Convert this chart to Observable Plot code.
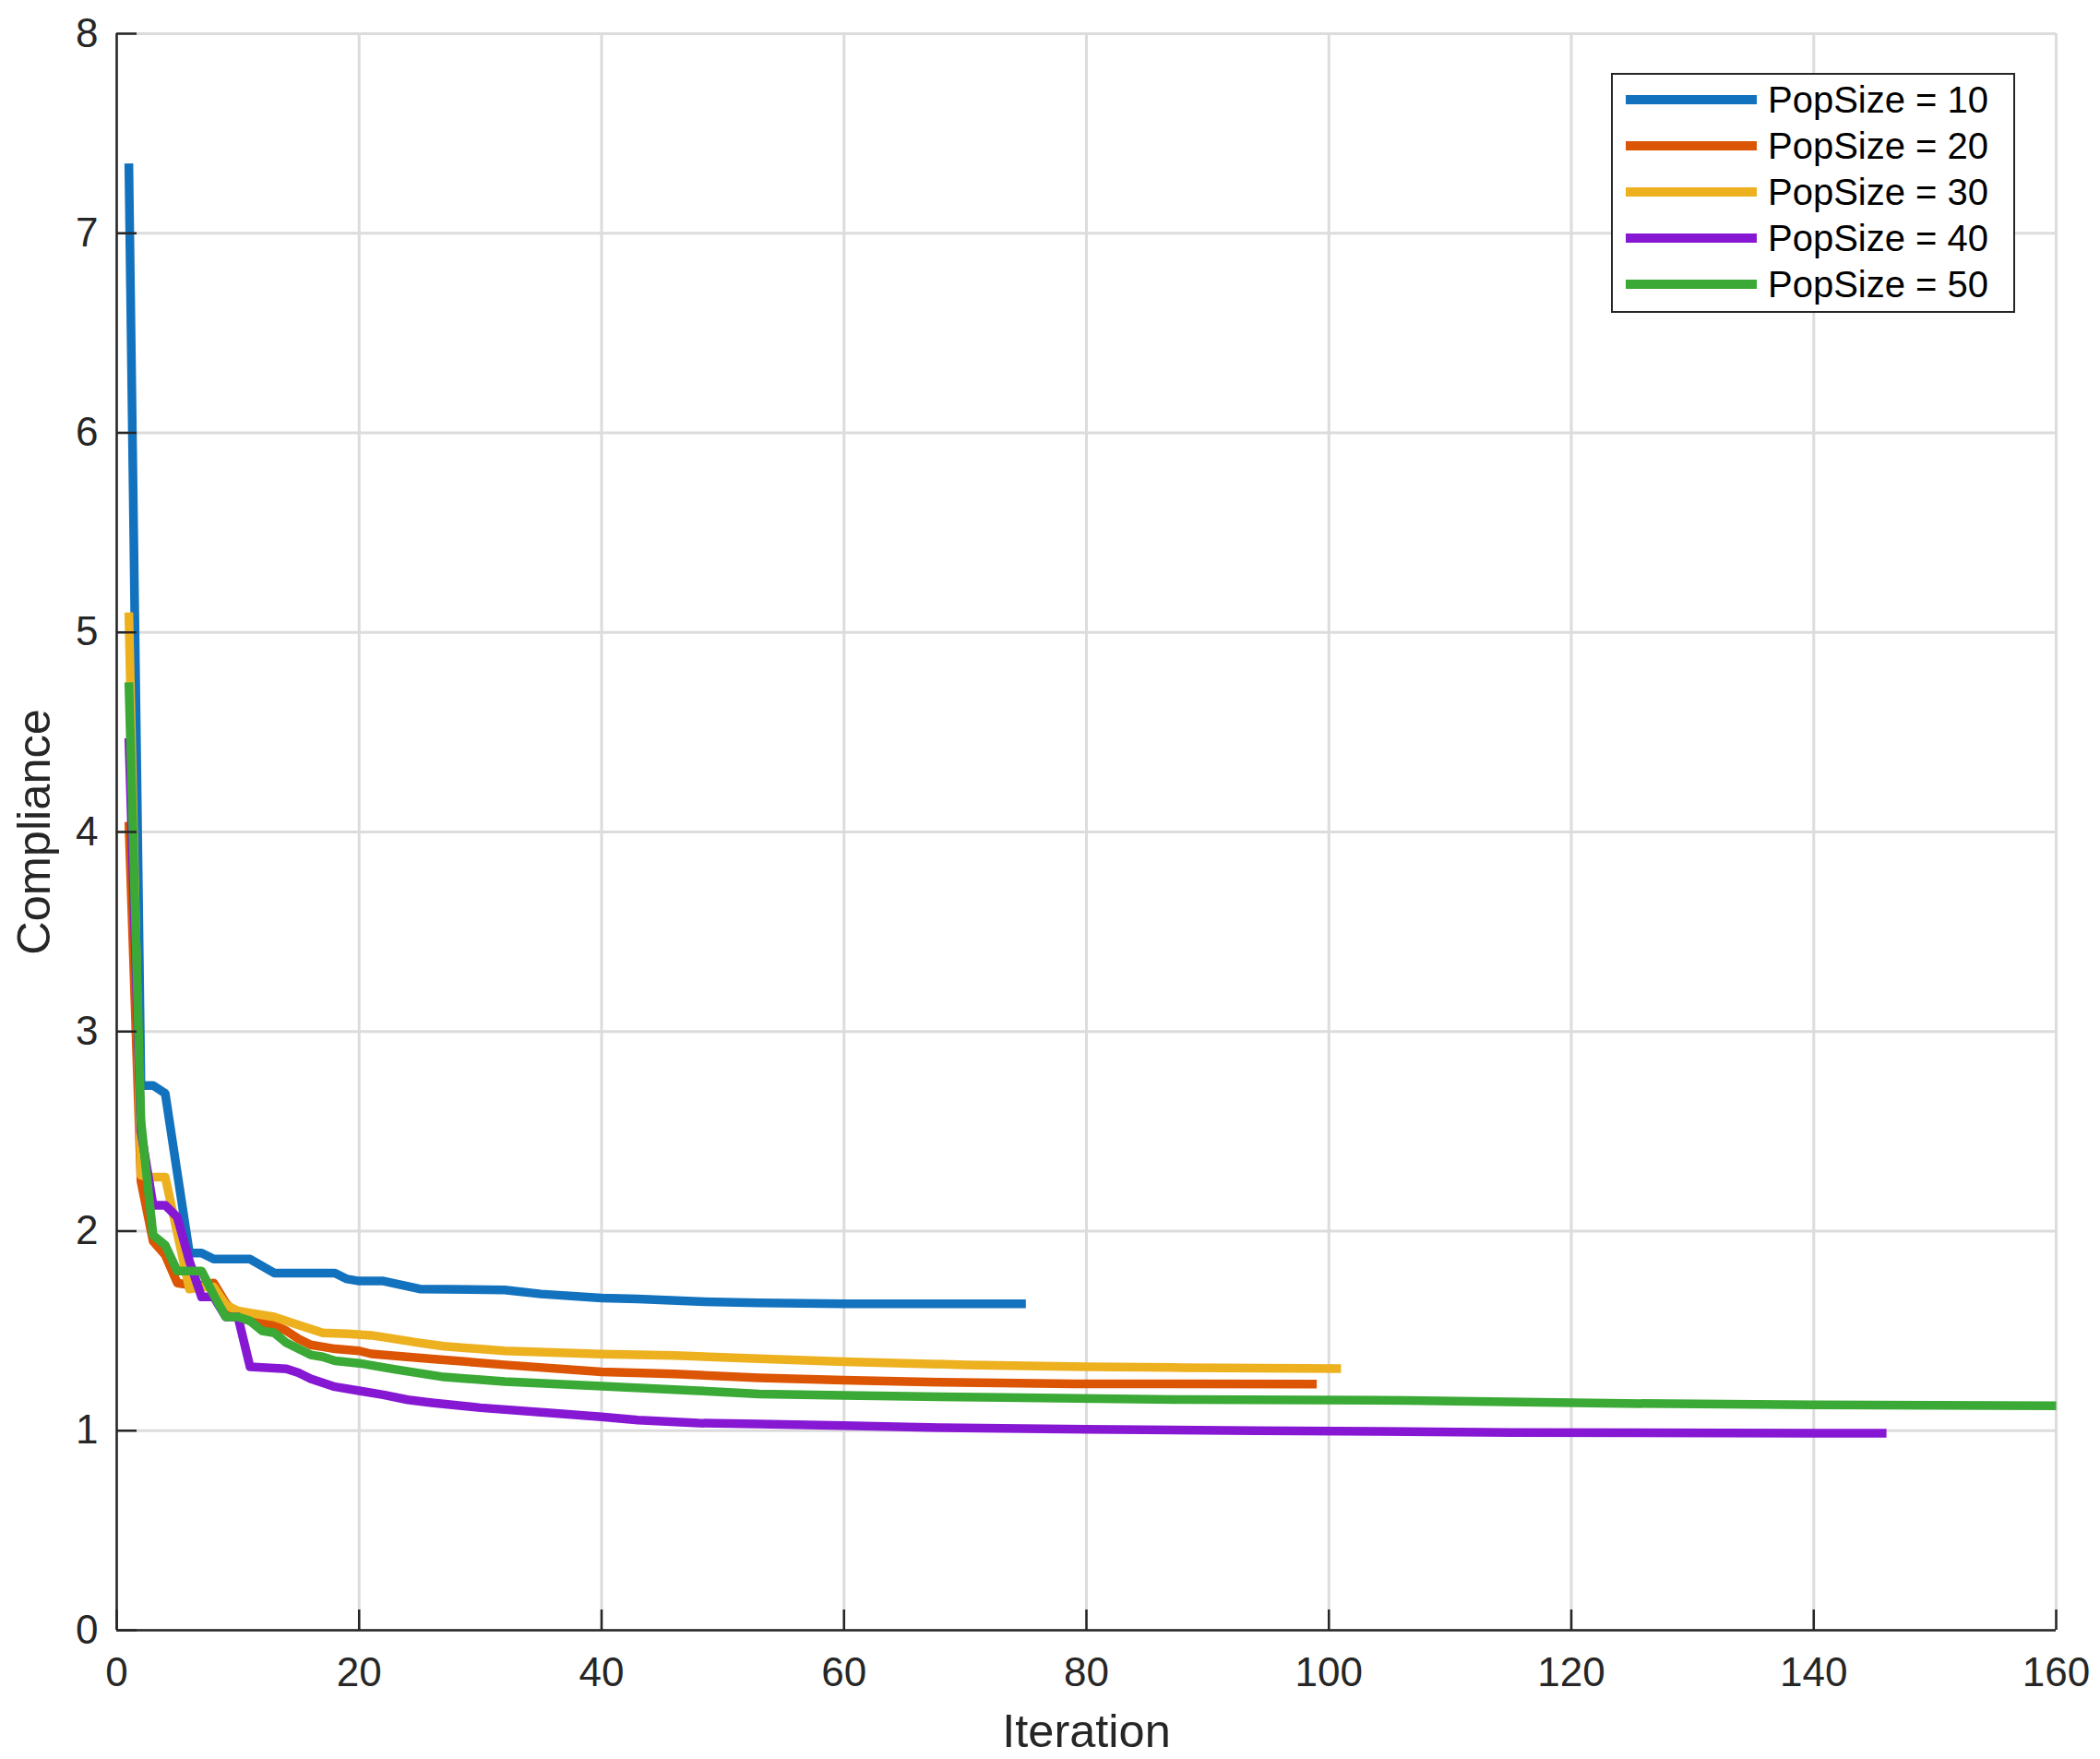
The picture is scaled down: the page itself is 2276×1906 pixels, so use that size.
<!DOCTYPE html>
<html>
<head>
<meta charset="utf-8">
<script src="https://cdn.jsdelivr.net/npm/d3@7"></script>
<script src="https://cdn.jsdelivr.net/npm/@observablehq/plot@0.6"></script>
<style>
  html, body { margin: 0; padding: 0; background: #ffffff; }
  #wrap { position: relative; width: 2276px; height: 1906px; background: #ffffff; font-family: "Liberation Sans", Arial, sans-serif; }
  #legend { position: absolute; left: 1746px; top: 79px; width: 434px; height: 256px; border: 2.5px solid #262626; background: #ffffff; }
  .row { position: absolute; left: 0; height: 50px; width: 100%; }
  .swatch { position: absolute; left: 14px; width: 142px; height: 9.5px; }
  .lab { position: absolute; left: 168px; font-size: 40px; color: #000; white-space: nowrap; line-height: 50px; }
</style>
</head>
<body>
<div id="wrap"><div id="legend"></div></div>
<script>
// ---- data ----
const seriesNames = ["PopSize = 10", "PopSize = 20", "PopSize = 30", "PopSize = 40", "PopSize = 50"];
const seriesColors = ["#1372BE", "#DC5504", "#EDB120", "#8618D3", "#3AA935"];

const iter10 = [1, 2, 3, 4, 6, 7, 8, 11, 13, 18, 19, 20, 22, 25, 32, 35, 40, 43, 48, 53, 60, 75];
const comp10 = [7.35, 2.73, 2.73, 2.69, 1.89, 1.89, 1.86, 1.86, 1.79, 1.79, 1.76, 1.75, 1.75, 1.71, 1.705, 1.685, 1.665, 1.66, 1.647, 1.64, 1.636, 1.636];

const iter20 = [1, 2, 3, 4, 5, 6, 7, 8, 9, 10, 11, 12, 13, 14, 15, 16, 17, 18, 20, 21, 26, 32, 40, 46, 53, 60, 68, 79, 99];
const comp20 = [4.05, 2.25, 1.95, 1.88, 1.74, 1.73, 1.73, 1.74, 1.64, 1.57, 1.55, 1.54, 1.53, 1.50, 1.46, 1.43, 1.42, 1.41, 1.40, 1.385, 1.36, 1.33, 1.295, 1.284, 1.265, 1.253, 1.243, 1.235, 1.233];

const iter30 = [1, 2, 3, 4, 5, 6, 7, 8, 9, 10, 11, 13, 15, 17, 19, 21, 22, 25, 27, 32, 40, 46, 53, 60, 70, 80, 88, 101];
const comp30 = [5.10, 2.28, 2.27, 2.27, 1.99, 1.71, 1.72, 1.72, 1.63, 1.60, 1.59, 1.57, 1.53, 1.49, 1.485, 1.478, 1.469, 1.44, 1.423, 1.40, 1.384, 1.377, 1.361, 1.346, 1.33, 1.32, 1.316, 1.311];

const iter40 = [1, 2, 3, 4, 5, 6, 7, 8, 9, 10, 11, 14, 15, 16, 18, 20, 22, 24, 26, 30, 35, 40, 43, 48, 53, 60, 68, 80, 94, 104, 115, 140, 146];
const comp40 = [4.47, 2.50, 2.13, 2.13, 2.07, 1.85, 1.67, 1.67, 1.57, 1.57, 1.32, 1.31, 1.29, 1.26, 1.22, 1.20, 1.18, 1.155, 1.14, 1.115, 1.092, 1.069, 1.053, 1.038, 1.033, 1.026, 1.015, 1.007, 1.0, 0.997, 0.991, 0.987, 0.987];

const iter50 = [1, 2, 3, 4, 5, 6, 7, 8, 9, 10, 11, 12, 13, 14, 15, 16, 17, 18, 20, 23, 27, 32, 40, 48, 53, 60, 73, 88, 104, 123, 140, 160];
const comp50 = [4.75, 2.55, 1.98, 1.93, 1.80, 1.80, 1.80, 1.68, 1.57, 1.57, 1.55, 1.50, 1.49, 1.44, 1.41, 1.38, 1.37, 1.35, 1.338, 1.307, 1.269, 1.246, 1.223, 1.20, 1.184, 1.177, 1.166, 1.156, 1.153, 1.137, 1.13, 1.125];

const xTicks = [0, 20, 40, 60, 80, 100, 120, 140, 160];
const yTicks = [0, 1, 2, 3, 4, 5, 6, 7, 8];
const xLabel = "Iteration";
const yLabel = "Compliance";

// ---- build ----
const iters = [iter10, iter20, iter30, iter40, iter50];
const comps = [comp10, comp20, comp30, comp40, comp50];
const series = seriesNames.map((name, k) => ({
  name, color: seriesColors[k],
  data: iters[k].map((it, i) => ({iter: it, value: comps[k][i]}))
}));

const axisColor = "#262626";
const font = "'Liberation Sans', Arial, sans-serif";
const fmt = d => String(d);

const chart = Plot.plot({
  width: 2276,
  height: 1906,
  marginLeft: 126,
  marginRight: 48,
  marginTop: 36,
  marginBottom: 140,
  style: {fontFamily: font, fontSize: "44px", color: axisColor, background: "#ffffff", overflow: "visible"},
  x: {domain: [0, 160]},
  y: {domain: [0, 8]},
  marks: [
    Plot.gridX(xTicks, {stroke: "#dcdcdc", strokeOpacity: 1, strokeWidth: 3}),
    Plot.gridY(yTicks, {stroke: "#dcdcdc", strokeOpacity: 1, strokeWidth: 3}),
    ...series.map(s => Plot.line(s.data, {
      x: "iter", y: "value", stroke: s.color, strokeWidth: 9.5,
      strokeLinejoin: "round", strokeLinecap: "butt"
    })),
    Plot.ruleX([0], {stroke: axisColor, strokeWidth: 2.5}),
    Plot.ruleY([0], {stroke: axisColor, strokeWidth: 2.5}),
    Plot.axisX(xTicks, {anchor: "bottom", tickSize: 22, dy: -22, tickFormat: () => "", stroke: axisColor, strokeWidth: 2.5, label: null}),
    Plot.axisY(yTicks, {anchor: "left", tickSize: 22, dx: 22, tickFormat: () => "", stroke: axisColor, strokeWidth: 2.5, label: null}),
    Plot.axisX(xTicks, {anchor: "bottom", tickSize: 0, tickPadding: 29, tickFormat: fmt, fontSize: 44, fill: axisColor, label: null}),
    Plot.axisY(yTicks, {anchor: "left", tickSize: 0, tickPadding: 20, tickFormat: fmt, fontSize: 44, fill: axisColor, label: null}),
    Plot.text([xLabel], {text: d => d, frameAnchor: "bottom", textAnchor: "middle", dy: 126, lineAnchor: "bottom", fontSize: 50.5, fill: axisColor}),
    Plot.text([yLabel], {text: d => d, frameAnchor: "left", textAnchor: "middle", dx: -73, rotate: -90, lineAnchor: "bottom", fontSize: 50.5, fill: axisColor})
  ]
});

const wrap = document.getElementById("wrap");
wrap.insertBefore(chart, wrap.firstChild);

// legend
const legend = document.getElementById("legend");
series.forEach((s, i) => {
  const row = document.createElement("div");
  row.className = "row";
  row.style.top = (2 + i * 50) + "px";
  const sw = document.createElement("div");
  sw.className = "swatch";
  sw.style.background = s.color;
  sw.style.top = "20.25px";
  const lab = document.createElement("div");
  lab.className = "lab";
  lab.style.top = "0px";
  lab.textContent = s.name;
  row.appendChild(sw);
  row.appendChild(lab);
  legend.appendChild(row);
});
</script>
</body>
</html>
